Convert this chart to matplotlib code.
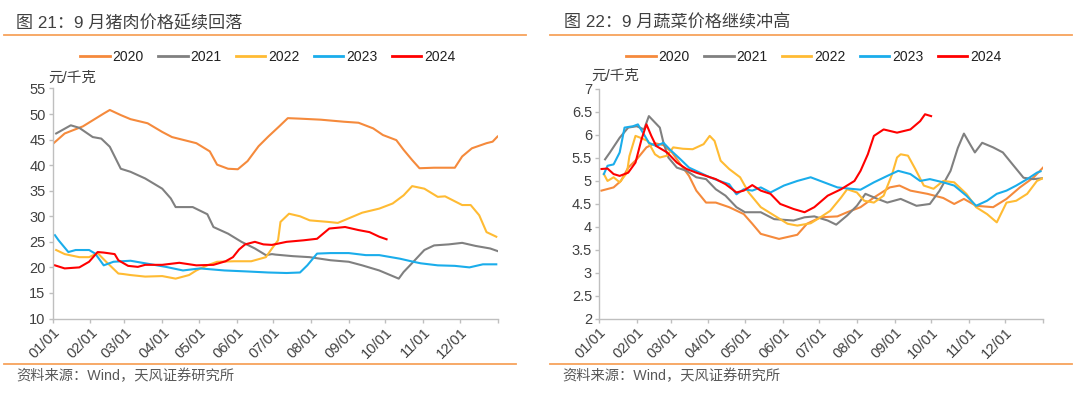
import matplotlib
matplotlib.use("Agg")
import matplotlib.pyplot as plt
from matplotlib.lines import Line2D

plt.rcParams['font.family'] = ['Liberation Sans', 'Noto Sans CJK SC', 'DejaVu Sans']

# 数据（按年内天数读取）
years = ['2020', '2021', '2022', '2023', '2024']
colors = ['#F58A3C', '#808080', '#FFBB33', '#1AADEB', '#FF0000']

month_days = [0, 31, 59, 90, 120, 151, 181, 212, 243, 273, 304, 334]
month_labels = ['01/01', '02/01', '03/01', '04/01', '05/01', '06/01',
                '07/01', '08/01', '09/01', '10/01', '11/01', '12/01']

# 图21 猪肉价格
pork_2020_d = [0, 10, 25, 42, 47, 56, 64, 78, 90, 98, 118, 129, 135, 144, 152, 160, 169, 177, 186, 193,
               203, 220, 239, 251, 263, 271, 282, 288, 295, 301, 313, 330, 336, 344, 356, 361, 365]
pork_2020 = [44.1, 46.2, 47.6, 50.1, 50.8, 49.8, 49.0, 48.2, 46.5, 45.5, 44.3, 42.7, 40.1, 39.3, 39.2, 40.8,
             43.7, 45.6, 47.6, 49.2, 49.1, 48.9, 48.5, 48.3, 47.2, 45.9, 44.9, 43.0, 41.0, 39.4, 39.5, 39.5,
             41.7, 43.3, 44.3, 44.6, 45.6]
pork_2021_d = [3, 15, 22, 33, 40, 47, 56, 64, 76, 90, 97, 101, 115, 127, 132, 144, 155, 166, 175, 180,
               183, 197, 211, 228, 243, 254, 268, 284, 288, 296, 305, 313, 325, 336, 347, 359, 365]
pork_2021 = [46.2, 47.8, 47.3, 45.5, 45.2, 43.6, 39.3, 38.7, 37.4, 35.4, 33.5, 31.8, 31.8, 30.4, 27.9, 26.6,
             25.0, 23.7, 22.4, 22.6, 22.5, 22.2, 22.0, 21.4, 21.1, 20.4, 19.4, 17.8, 19.1, 21.1, 23.4, 24.3,
             24.5, 24.8, 24.2, 23.7, 23.2]
pork_2022_d = [3, 10, 22, 30, 37, 44, 54, 58, 64, 76, 90, 101, 112, 118, 127, 135, 149, 163, 175, 180,
               185, 187, 194, 203, 211, 226, 234, 243, 254, 268, 279, 288, 295, 305, 316, 322, 336, 343,
               350, 356, 364]
pork_2022 = [23.4, 22.6, 22.0, 22.0, 22.8, 21.1, 18.8, 18.7, 18.5, 18.2, 18.3, 17.8, 18.5, 19.4, 20.4, 21.1,
             21.2, 21.2, 22.0, 23.7, 25.3, 28.9, 30.5, 30.0, 29.2, 28.9, 28.7, 29.6, 30.7, 31.5, 32.5, 34.1,
             35.9, 35.4, 33.8, 33.9, 32.2, 32.2, 30.2, 26.9, 26.0]
pork_2023_d = [2, 5, 13, 19, 30, 35, 39, 42, 50, 64, 76, 93, 107, 121, 141, 160, 177, 192, 203, 209,
               217, 228, 243, 257, 268, 285, 296, 302, 316, 330, 342, 353, 364]
pork_2023 = [26.3, 25.3, 23.0, 23.4, 23.4, 22.7, 21.4, 20.4, 21.1, 21.3, 20.8, 20.1, 19.4, 19.8, 19.4, 19.2,
             19.0, 18.9, 19.0, 20.4, 22.7, 22.8, 22.8, 22.4, 22.4, 21.7, 21.1, 20.8, 20.4, 20.3, 20.0, 20.6,
             20.6]
pork_2024_d = [2, 10, 22, 30, 37, 42, 51, 54, 62, 70, 76, 90, 104, 118, 132, 142, 148, 153, 158, 166,
               173, 180, 192, 206, 217, 227, 240, 251, 260, 268, 274]
pork_2024 = [20.4, 19.8, 20.0, 21.1, 23.0, 22.9, 22.6, 21.4, 20.3, 20.1, 20.5, 20.5, 20.9, 20.4, 20.5, 21.2,
             22.0, 23.5, 24.5, 25.0, 24.5, 24.4, 25.0, 25.3, 25.6, 27.6, 27.9, 27.3, 26.9, 26.0, 25.5]

# 图22 蔬菜价格
veg_2020_d = [2, 12, 18, 24, 31, 39, 46, 53, 60, 69, 74, 80, 88, 96, 107, 119, 126, 133, 148, 163,
              171, 182, 196, 204, 215, 226, 239, 247, 256, 270, 283, 292, 300, 310, 324, 335, 346, 357, 365]
veg_2020 = [4.78, 4.85, 4.99, 5.28, 5.46, 5.72, 5.81, 5.77, 5.61, 5.28, 5.10, 4.78, 4.52, 4.52, 4.42, 4.27,
            4.06, 3.84, 3.73, 3.82, 4.06, 4.20, 4.22, 4.31, 4.42, 4.63, 4.85, 4.89, 4.78, 4.71, 4.62, 4.49,
            4.60, 4.45, 4.42, 4.60, 4.85, 5.06, 5.28]
veg_2021_d = [5, 9, 17, 24, 31, 37, 41, 50, 53, 57, 64, 72, 80, 88, 96, 104, 113, 120, 133, 144,
              160, 169, 177, 188, 195, 204, 212, 219, 229, 237, 248, 261, 272, 280, 289, 295, 300, 305,
              309, 315, 324, 332, 340, 349, 357, 365]
veg_2021 = [5.46, 5.61, 5.93, 6.15, 6.18, 6.11, 6.40, 6.15, 5.82, 5.50, 5.28, 5.21, 5.07, 5.03, 4.81, 4.67,
            4.42, 4.31, 4.31, 4.16, 4.13, 4.20, 4.22, 4.13, 4.04, 4.24, 4.45, 4.71, 4.60, 4.52, 4.60, 4.45,
            4.49, 4.78, 5.21, 5.71, 6.02, 5.79, 5.61, 5.82, 5.72, 5.61, 5.35, 5.06, 5.03, 5.05]
veg_2022_d = [4, 7, 12, 17, 23, 25, 30, 34, 40, 46, 50, 56, 61, 69, 77, 86, 91, 95, 100, 107,
              116, 123, 133, 144, 155, 163, 174, 182, 190, 199, 204, 212, 218, 226, 234, 241, 245, 248,
              254, 260, 267, 275, 283, 292, 302, 310, 319, 327, 335, 343, 352, 360, 365]
veg_2022 = [5.14, 4.99, 5.07, 4.96, 5.17, 5.53, 5.97, 5.93, 5.86, 5.57, 5.50, 5.54, 5.72, 5.69, 5.68, 5.79,
            5.97, 5.86, 5.43, 5.25, 5.07, 4.74, 4.42, 4.24, 4.06, 4.02, 4.07, 4.20, 4.34, 4.63, 4.81, 4.74,
            4.56, 4.52, 4.67, 5.14, 5.50, 5.57, 5.54, 5.25, 4.89, 4.82, 4.99, 4.96, 4.71, 4.42, 4.27, 4.09,
            4.52, 4.56, 4.71, 4.99, 5.05]
veg_2023_d = [4, 7, 12, 17, 21, 28, 32, 37, 41, 47, 53, 58, 67, 74, 83, 91, 99, 107, 113, 119,
              126, 133, 141, 152, 163, 174, 185, 196, 207, 215, 226, 237, 246, 256, 264, 272, 283, 292,
              302, 310, 319, 327, 335, 343, 352, 360, 363]
veg_2023 = [5.14, 5.32, 5.35, 5.61, 6.15, 6.18, 6.22, 6.00, 5.82, 5.75, 5.82, 5.68, 5.46, 5.28, 5.17, 5.07,
            4.99, 4.92, 4.70, 4.81, 4.78, 4.85, 4.74, 4.89, 4.99, 5.07, 4.96, 4.85, 4.82, 4.80, 4.96, 5.10,
            5.21, 5.14, 4.99, 5.03, 4.96, 4.89, 4.67, 4.45, 4.56, 4.71, 4.78, 4.89, 5.03, 5.17, 5.20]
veg_2024_d = [2, 7, 12, 17, 24, 30, 35, 39, 43, 47, 56, 64, 72, 80, 88, 96, 104, 113, 119, 126,
              133, 141, 149, 160, 169, 177, 188, 199, 210, 215, 221, 226, 234, 245, 256, 264, 268, 273]
veg_2024 = [5.25, 5.26, 5.14, 5.10, 5.17, 5.39, 5.90, 6.22, 5.97, 5.75, 5.61, 5.39, 5.25, 5.17, 5.10, 5.03,
            4.92, 4.74, 4.78, 4.90, 4.78, 4.71, 4.49, 4.38, 4.31, 4.42, 4.67, 4.81, 4.99, 5.21, 5.57, 5.97,
            6.11, 6.04, 6.11, 6.29, 6.44, 6.40]

pork_days = [pork_2020_d, pork_2021_d, pork_2022_d, pork_2023_d, pork_2024_d]
pork_vals = [pork_2020, pork_2021, pork_2022, pork_2023, pork_2024]
veg_days = [veg_2020_d, veg_2021_d, veg_2022_d, veg_2023_d, veg_2024_d]
veg_vals = [veg_2020, veg_2021, veg_2022, veg_2023, veg_2024]

W, H = 1080, 393
fig = plt.figure(figsize=(W / 100, H / 100), dpi=100)
text_c = '#404040'
axis_c = '#BFBFBF'
line_c = '#F7A35C'


def px(x, y):
    return x / W, 1 - y / H


def setup(ax, days, vals, yticks, ylabels):
    for d, v, c, yr in zip(days, vals, colors, years):
        ax.plot(d, v, color=c, lw=1.5, label=yr, solid_joinstyle='round')
    ax.set_xlim(0, 365)
    ax.set_ylim(yticks[0], yticks[-1])
    ax.set_yticks(yticks)
    ax.set_yticklabels(ylabels)
    ax.set_xticks(month_days + [365])
    ax.set_xticklabels(month_labels + [''], rotation=45, ha='right', rotation_mode='anchor')
    for s in ['top', 'right']:
        ax.spines[s].set_visible(False)
    for s in ['left', 'bottom']:
        ax.spines[s].set_color(axis_c)
        ax.spines[s].set_linewidth(1.0)
    ax.tick_params(axis='both', colors=axis_c, labelcolor=text_c, labelsize=10.5, length=3, width=1.0)
    ax.tick_params(axis='x', pad=2)
    ax.tick_params(axis='y', pad=2)


# 左图
ax1 = fig.add_axes([52.5 / W, 1 - 318.5 / H, 445 / W, 230 / H])
setup(ax1, pork_days, pork_vals, list(range(10, 56, 5)), [str(v) for v in range(10, 56, 5)])

# 右图
ax2 = fig.add_axes([599 / W, 1 - 318.5 / H, 444 / W, 230 / H])
veg_ticks = [2, 2.5, 3, 3.5, 4, 4.5, 5, 5.5, 6, 6.5, 7]
setup(ax2, veg_days, veg_vals, veg_ticks, ['%g' % v for v in veg_ticks])

handles = [Line2D([], [], color=c, lw=2) for c in colors]
for cx in [268, 814]:
    fig.legend(handles, years, loc='center', bbox_to_anchor=px(cx, 57), ncol=5, frameon=False,
               fontsize=10, handlelength=2.1, handletextpad=0.22, columnspacing=1.04,
               labelcolor='#202020')

# 标题与装饰线
fig.text(*px(16, 22), '图 21：9 月猪肉价格延续回落', fontsize=12.3, color=text_c, va='center', ha='left')
fig.text(*px(563.5, 22), '图 22：9 月蔬菜价格继续冲高', fontsize=12.3, color=text_c, va='center', ha='left')
fig.text(*px(48.5, 78), '元/千克', fontsize=10.5, color=text_c, va='center', ha='left')
fig.text(*px(591.5, 76), '元/千克', fontsize=10.5, color=text_c, va='center', ha='left')
fig.text(*px(16.5, 376), '资料来源：Wind，天风证券研究所', fontsize=10.3, color='#595959', va='center', ha='left')
fig.text(*px(562.7, 376), '资料来源：Wind，天风证券研究所', fontsize=10.3, color='#595959', va='center', ha='left')

for x0, x1 in [(4, 526), (550, 1072)]:
    fig.add_artist(Line2D([x0 / W, x1 / W], [1 - 35 / H] * 2, color=line_c, lw=1.3))
for x0, x1 in [(4, 516), (550, 1072)]:
    fig.add_artist(Line2D([x0 / W, x1 / W], [1 - 364 / H] * 2, color=line_c, lw=1.3))

plt.savefig('out.png', dpi=100)
